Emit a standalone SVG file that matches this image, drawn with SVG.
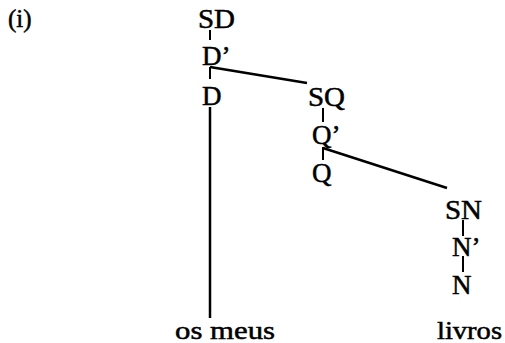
<svg xmlns="http://www.w3.org/2000/svg" width="505" height="343" viewBox="0 0 505 343">
<style>
text{font-family:"Liberation Serif","Times New Roman",serif;fill:#000;stroke:#000;stroke-width:0.5}
.l{font-size:27px}
.w{font-size:25px}
.e{stroke:#000;fill:none;stroke-width:2.5}
.t{stroke:#000;fill:none;stroke-width:2}
</style>
<rect width="505" height="343" fill="#fff"/>
<text x="8" y="27" style="font-size:25px">(i)</text>
<g id="connectors">
<line class="t" x1="210" y1="30" x2="210" y2="40"/>
<line class="t" x1="210" y1="67" x2="210" y2="79"/>
<line class="e" x1="210" y1="67" x2="307" y2="83"/>
<line class="e" x1="210" y1="107" x2="210" y2="318"/>
<line class="t" x1="323" y1="108" x2="323" y2="122"/>
<line class="t" x1="323" y1="147" x2="323" y2="160"/>
<line class="e" x1="323" y1="148" x2="447" y2="188"/>
<line class="t" x1="463" y1="220" x2="463" y2="236"/>
<line class="t" x1="463" y1="256" x2="463" y2="272"/>
</g>
<g id="SD"><text class="l" x="198" y="28" textLength="37" lengthAdjust="spacingAndGlyphs">SD</text></g>
<g id="D1"><text class="l" x="202" y="65">D’</text></g>
<g id="D"><text class="l" x="202" y="105">D</text></g>
<g id="SQ"><text class="l" x="308" y="106" textLength="37" lengthAdjust="spacingAndGlyphs">SQ</text></g>
<g id="Q1"><text class="l" x="312" y="144">Q’</text></g>
<g id="Q"><text class="l" x="312" y="182">Q</text></g>
<g id="SN"><text class="l" x="445" y="219" textLength="37" lengthAdjust="spacingAndGlyphs">SN</text></g>
<g id="N1"><text class="l" x="452" y="256">N’</text></g>
<g id="N"><text class="l" x="452" y="294">N</text></g>
<g id="os_meus"><text class="w" x="175" y="339" textLength="100" lengthAdjust="spacingAndGlyphs">os meus</text></g>
<g id="livros"><text class="w" x="437" y="339" textLength="65" lengthAdjust="spacingAndGlyphs">livros</text></g>
</svg>
